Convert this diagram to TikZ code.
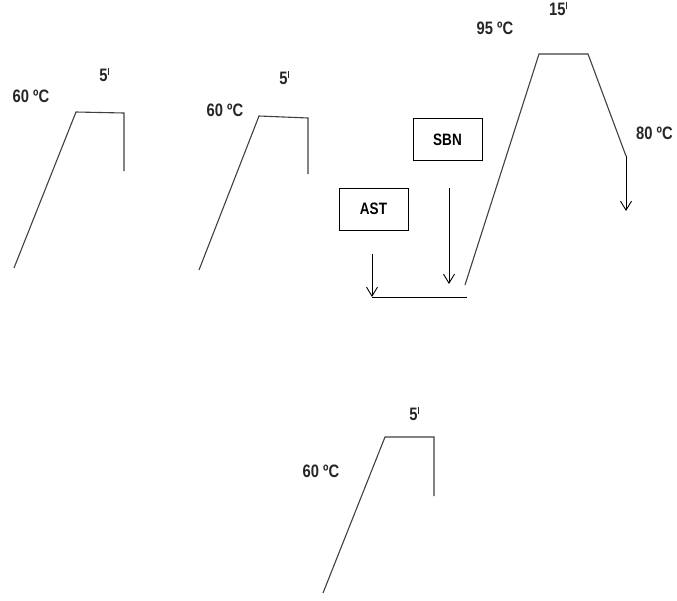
\documentclass[tikz,border=0pt]{standalone}
\usepackage{fontspec}
\setmainfont{Liberation Sans}
\usetikzlibrary{arrows.meta}
\newcommand{\nar}[1]{\scalebox{0.82}[1]{#1}}
\newcommand{\mn}{\hspace{0.6pt}\raisebox{5.9pt}{\rule{0.8pt}{7pt}}}
\tikzset{
  lbl/.style={font=\fontsize{18}{20}\selectfont\bfseries, text=black!85, inner sep=0pt},
  prof/.style={draw=black!75, line width=1.1pt},
  boxn/.style={draw=black, line width=0.9pt, minimum width=69pt, minimum height=42pt, inner sep=0pt, font=\fontsize{16.5}{18}\selectfont\bfseries},
  arr/.style={draw=black, line width=0.9pt, -{Straight Barb[length=9pt,width=11pt]}}
}
\begin{document}
\begin{tikzpicture}[x=1pt,y=-1pt]
\useasboundingbox (0,0) rectangle (677,600);
% profile 1
\coordinate (a1) at (14,268); \coordinate (b1) at (76,112);
\coordinate (c1) at (124,113); \coordinate (d1) at (124,171);
\draw[prof] (a1) -- (b1) -- (c1) -- (d1);
\node[lbl] (t1) at (31,96) {\nar{60 ºC}};
\node[lbl] (m1) at (104,75) {\nar{5\mn}};
% profile 2
\coordinate (a2) at (199,270); \coordinate (b2) at (259,116);
\coordinate (c2) at (308,118); \coordinate (d2) at (308,174);
\draw[prof] (a2) -- (b2) -- (c2) -- (d2);
\node[lbl] (t2) at (225,110) {\nar{60 ºC}};
\node[lbl] (m2) at (284,78) {\nar{5\mn}};
% central profile
\node[boxn] (sbn) at (447.5,139.5) {\nar{SBN}};
\node[boxn] (ast) at (373.5,209) {\nar{AST}};
\coordinate (astS) at (372,254); \coordinate (h1) at (372,297);
\coordinate (h2) at (467,297);
\coordinate (sbnS) at (449,188); \coordinate (sbnE) at (449,284);
\draw[arr] (astS) -- (h1);
\draw[black, line width=1pt] (h1) -- (h2);
\draw[arr] (sbnS) -- (sbnE);
\coordinate (a3) at (465,285); \coordinate (b3) at (539,54);
\coordinate (c3) at (588,54); \coordinate (d3) at (626,156);
\coordinate (e3) at (626,211);
\draw[prof] (a3) -- (b3) -- (c3) -- (d3);
\draw[arr] (d3) -- (e3);
\node[lbl] (t3) at (495,28) {\nar{95 ºC}};
\node[lbl] (m3) at (558,9) {\nar{15\mn}};
\node[lbl] (t4) at (654.5,133) {\nar{80 ºC}};
% profile 4
\coordinate (a4) at (323,593); \coordinate (b4) at (385,437);
\coordinate (c4) at (434,437); \coordinate (d4) at (434,496);
\draw[prof] (a4) -- (b4) -- (c4) -- (d4);
\node[lbl] (t5) at (321,471) {\nar{60 ºC}};
\node[lbl] (m5) at (414,414) {\nar{5\mn}};
\end{tikzpicture}
\end{document}
